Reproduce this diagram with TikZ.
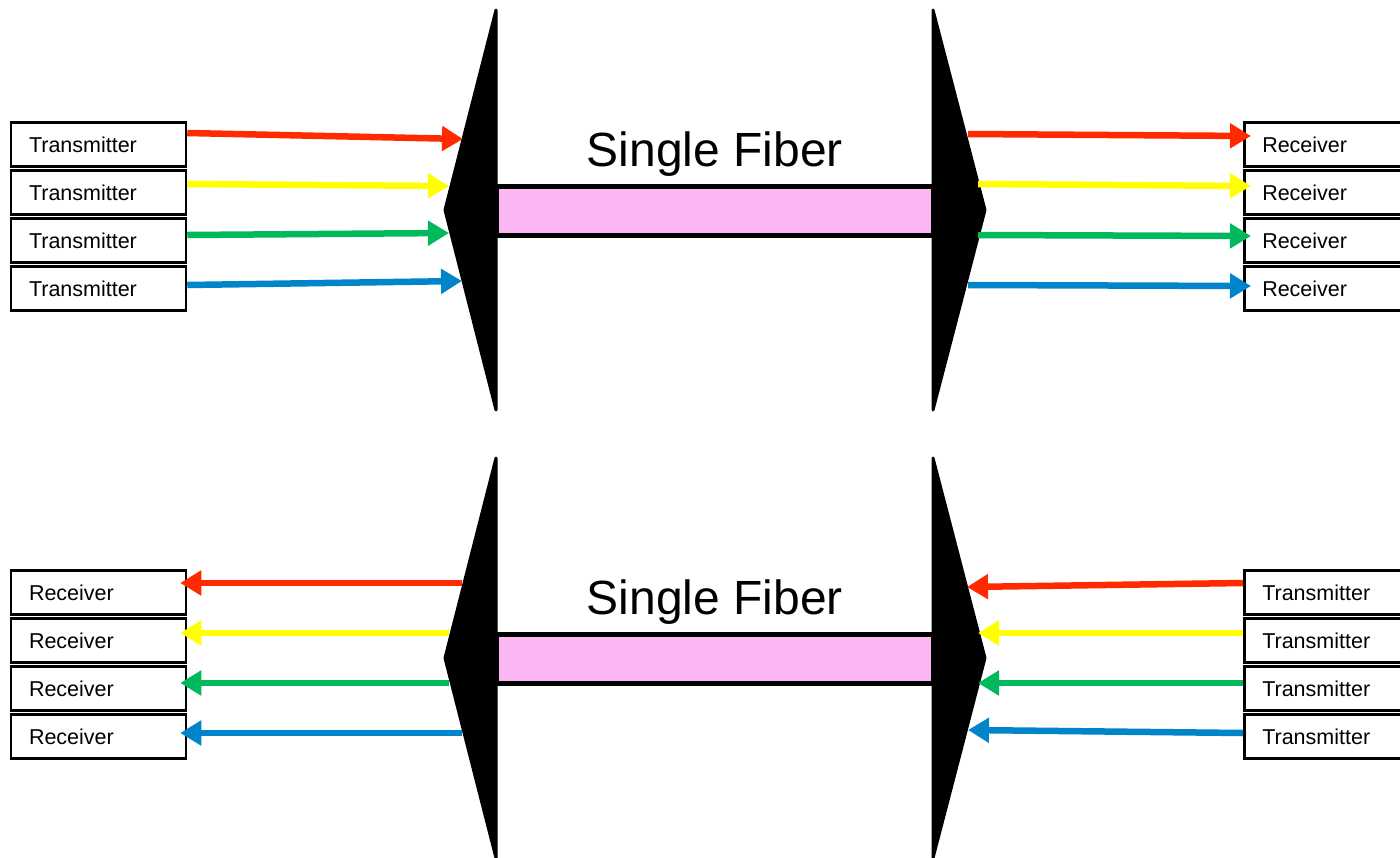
\documentclass[tikz,border=0pt]{standalone}
\usepackage{fontspec}
\setmainfont{Liberation Sans}
\usetikzlibrary{arrows.meta}

\definecolor{sigred}{HTML}{FF2A00}
\definecolor{sigyellow}{HTML}{FFFF00}
\definecolor{siggreen}{HTML}{00B95C}
\definecolor{sigblue}{HTML}{0085CA}
\definecolor{fiberpink}{HTML}{FBB6F4}

\tikzset{
    unit/.style = {draw, line width = 2.5pt, minimum width = 175pt, minimum height = 44pt,
        inner xsep = 18pt, text width = 139pt, align = left, font = \fontsize{21.5}{24}\selectfont},
    sig/.style = {line width = 6.5pt, -{Triangle[length = 21pt, width = 24pt]}},
    prism/.style = {draw = black, fill = black, line width = 3pt, line join = round},
    fiber/.style = {draw = black, fill = fiberpink, line width = 5pt},
    fibertext/.style = {anchor = base, font = \fontsize{48}{56}\selectfont}
}

\begin{document}
\begin{tikzpicture}[x = 1pt, y = -1pt]
    \useasboundingbox [fill = white] (0, 0) rectangle (1400, 857);

    % top: transmitters on the left
    \draw [fiber] (496, 186) rectangle (933, 235);
    \draw [prism] (496, 10) -- (445, 210) -- (496, 410) -- cycle;
    \draw [prism] (933, 10) -- (985, 210) -- (933, 410) -- cycle;
    \node [fibertext] (fib1) at (715, 166) {Single Fiber};

    \node [unit] (tx1) at (98.5, 144.5) {Transmitter};
    \node [unit] (tx2) at (98.5, 192.5) {Transmitter};
    \node [unit] (tx3) at (98.5, 240.5) {Transmitter};
    \node [unit] (tx4) at (98.5, 288.5) {Transmitter};
    \node [unit] (rx1) at (1331.75, 144.5) {Receiver};
    \node [unit] (rx2) at (1331.75, 192.5) {Receiver};
    \node [unit] (rx3) at (1331.75, 240.5) {Receiver};
    \node [unit] (rx4) at (1331.75, 288.5) {Receiver};

    \coordinate (mux1) at (463, 139);
    \coordinate (mux2) at (449, 186);
    \coordinate (mux3) at (449, 233);
    \coordinate (mux4) at (462, 281);
    \coordinate (demux1) at (968, 134);
    \coordinate (demux2) at (978, 184);
    \coordinate (demux3) at (978, 235);
    \coordinate (demux4) at (968, 285);

    \draw [sig, sigred] ([yshift = 11.5pt]tx1.east) -- (mux1);
    \draw [sig, sigyellow] ([yshift = 8.5pt]tx2.east) -- (mux2);
    \draw [sig, siggreen] ([yshift = 5.5pt]tx3.east) -- (mux3);
    \draw [sig, sigblue] ([yshift = 3.5pt]tx4.east) -- (mux4);
    \draw [sig, sigred] (demux1) -- ([xshift = 8pt, yshift = 8.5pt]rx1.west);
    \draw [sig, sigyellow] (demux2) -- ([xshift = 8pt, yshift = 6.5pt]rx2.west);
    \draw [sig, siggreen] (demux3) -- ([xshift = 8pt, yshift = 4.5pt]rx3.west);
    \draw [sig, sigblue] (demux4) -- ([xshift = 8pt, yshift = 2.5pt]rx4.west);

    % bottom: transmitters on the right
    \draw [fiber] (496, 634) rectangle (933, 683);
    \draw [prism] (496, 458) -- (445, 658) -- (496, 858) -- cycle;
    \draw [prism] (933, 458) -- (985, 658) -- (933, 858) -- cycle;
    \node [fibertext] (fib2) at (715, 614) {Single Fiber};

    \node [unit] (rx5) at (98.5, 592.5) {Receiver};
    \node [unit] (rx6) at (98.5, 640.5) {Receiver};
    \node [unit] (rx7) at (98.5, 688.5) {Receiver};
    \node [unit] (rx8) at (98.5, 736.5) {Receiver};
    \node [unit] (tx5) at (1331.75, 592.5) {Transmitter};
    \node [unit] (tx6) at (1331.75, 640.5) {Transmitter};
    \node [unit] (tx7) at (1331.75, 688.5) {Transmitter};
    \node [unit] (tx8) at (1331.75, 736.5) {Transmitter};

    \coordinate (demux5) at (462, 583);
    \coordinate (demux6) at (449, 633);
    \coordinate (demux7) at (449, 683);
    \coordinate (demux8) at (462, 733);
    \coordinate (mux5) at (967, 587);
    \coordinate (mux6) at (978, 633);
    \coordinate (mux7) at (978, 683);
    \coordinate (mux8) at (968, 730);

    \draw [sig, sigred] (demux5) -- ([xshift = -7pt, yshift = 9.5pt]rx5.east);
    \draw [sig, sigyellow] (demux6) -- ([xshift = -7pt, yshift = 7.5pt]rx6.east);
    \draw [sig, siggreen] (demux7) -- ([xshift = -7pt, yshift = 5.5pt]rx7.east);
    \draw [sig, sigblue] (demux8) -- ([xshift = -7pt, yshift = 3.5pt]rx8.east);
    \draw [sig, sigred] ([yshift = 9.5pt]tx5.west) -- (mux5);
    \draw [sig, sigyellow] ([yshift = 7.5pt]tx6.west) -- (mux6);
    \draw [sig, siggreen] ([yshift = 5.5pt]tx7.west) -- (mux7);
    \draw [sig, sigblue] ([yshift = 3.5pt]tx8.west) -- (mux8);
\end{tikzpicture}
\end{document}
